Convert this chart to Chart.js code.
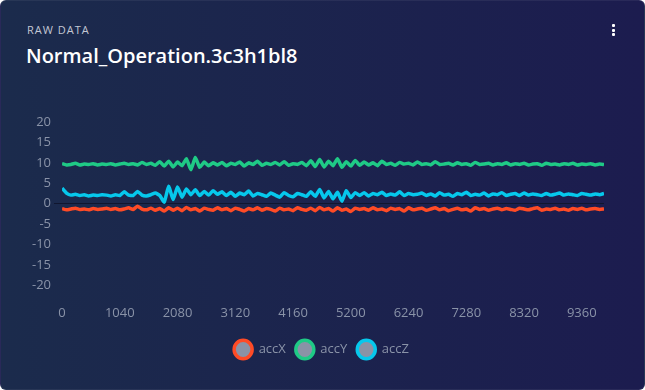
<!DOCTYPE html>
<html>
<head>
<meta charset="utf-8">
<script src="https://cdn.jsdelivr.net/npm/chart.js@4.4.0/dist/chart.umd.min.js"></script>
<style>
  html, body { margin: 0; padding: 0; background: #ffffff; }
  .card {
    position: relative;
    width: 645px;
    height: 390px;
    box-sizing: border-box;
    border-radius: 6px;
    border: 1px solid rgba(255, 255, 255, 0.06);
    background: linear-gradient(90deg, #1b2b4c 0%, #1c1c4f 100%);
    overflow: hidden;
    font-family: "Open Sans", sans-serif;
  }
  .kicker {
    position: absolute; left: 26px; top: 21px;
    font-size: 11px; letter-spacing: 1px; color: #c3c8d4;
  }
  .title {
    position: absolute; left: 25px; top: 41px;
    font-size: 20px; font-weight: 600; color: #ffffff;
  }
  .menu { position: absolute; left: 611px; top: 23px; }
  .menu span {
    display: block; width: 3px; height: 3px; margin-bottom: 1.5px;
    background: #ffffff; border-radius: 1px;
  }
  canvas { position: absolute; left: 0; top: 0; }
</style>
</head>
<body>
<div class="card">
  <div class="kicker">RAW DATA</div>
  <div class="title">Normal_Operation.3c3h1bl8</div>
  <div class="menu"><span></span><span></span><span></span></div>
  <canvas id="raw_chart" width="645" height="390"></canvas>
</div>
<script>
var sampleStep = 80; // sample spacing on the x axis
var xTickValues = [0, 1040, 2080, 3120, 4160, 5200, 6240, 7280, 8320, 9360];
var yTicks = [-20, -15, -10, -5, 0, 5, 10, 15, 20];

var accX = [
  -1.2, -1.5, -1.3, -1.1, -1.4, -1.3, -1.5, -1.2, -1.4, -1.3, -1.1, -1.4,
  -1.2, -1.5, -1.3, -1.0, -1.4, -0.6, -1.3, -1.5, -1.1, -1.6,
  -1.2, -1.8, -1.0, -1.6, -1.1, -1.7, -0.9, -1.5, -1.2, -1.8,
  -1.1, -1.4, -1.6, -1.0, -1.5, -1.2, -1.7, -1.1, -1.4, -1.8, -1.2, -1.5, -1.0,
  -1.6, -1.2, -1.4, -1.8, -1.1, -1.5, -1.3, -1.7, -1.0, -1.4, -1.6,
  -1.1, -1.7, -0.9, -1.5, -1.2, -1.8, -1.0, -1.6, -1.3, -1.9, -1.1,
  -1.4, -1.2, -1.6, -1.0, -1.5, -1.3, -1.7, -1.1, -1.4, -1.2, -1.8, -1.0, -1.5, -1.3,
  -1.1, -1.6, -1.3, -1.0, -1.5, -1.2, -1.7, -1.4, -1.1, -1.5, -1.3, -1.8, -1.0, -1.4, -1.2, -1.6, -1.3, -1.1, -1.5, -1.2,
  -1.4, -1.6, -1.1, -1.3, -1.5, -1.2, -1.0, -1.6, -1.3, -1.4, -1.1, -1.5, -1.3, -1.6, -1.2, -1.4, -1.1, -1.5, -1.3, -1.2, -1.4, -1.3
];
var accY = [
  9.8, 9.5, 9.6, 9.9, 9.5, 9.7, 9.6, 9.8, 9.5, 9.7, 9.6, 9.8,
  9.5, 9.7, 9.9, 9.6, 9.8, 9.5, 10.1, 9.6, 9.9, 9.4,
  10.3, 9.2, 10.4, 9.0, 10.2, 9.3, 11.0, 8.3, 11.3, 8.9,
  10.2, 9.3, 10.0, 9.5, 10.1, 9.3, 9.9, 9.6, 10.2, 9.2, 10.0, 9.6, 10.4,
  9.4, 9.9, 9.6, 10.1, 9.5, 10.3, 9.4, 9.8, 9.6, 10.1, 9.3,
  10.5, 9.1, 10.8, 9.0, 10.4, 9.3, 11.0, 8.9, 10.3, 9.2, 10.6,
  9.4, 10.2, 9.5, 10.0, 9.3, 10.4, 9.6, 9.9, 9.4, 10.1, 9.7, 9.9, 9.5, 10.2,
  9.6, 9.8, 9.5, 10.3, 9.6, 9.7, 9.9, 9.5, 10.0, 9.6, 9.8, 9.4, 10.1, 9.6, 9.7, 9.9, 9.5, 9.8, 9.6, 10.0,
  9.5, 9.8, 9.6, 9.9, 9.5, 9.7, 9.8, 9.4, 9.9, 9.6, 9.7, 9.5, 9.8, 9.6, 9.9, 9.5, 9.7, 9.6, 9.8, 9.5, 9.7, 9.6
];
var accZ = [
  3.8, 2.6, 2.1, 2.3, 2.0, 2.2, 1.9, 2.1, 2.0, 2.2, 2.1, 1.9,
  2.2, 2.0, 2.9, 2.1, 2.0, 3.0, 2.1, 1.9, 2.2, 2.6,
  2.0, 0.4, 4.3, 1.0, 4.1, 1.6, 3.6, 2.2, 3.4, 2.0,
  3.0, 2.1, 3.2, 2.3, 2.9, 2.0, 2.8, 1.8, 2.6, 2.2, 3.1, 1.9, 2.5,
  2.2, 1.8, 2.6, 2.1, 1.6, 2.7, 2.0, 1.7, 2.5, 2.2, 1.8,
  2.9, 1.8, 3.5, 1.4, 3.0, 1.2, 2.8, 0.6, 3.2, 1.5, 2.7,
  2.0, 2.7, 1.9, 2.5, 2.2, 2.8, 2.0, 2.4, 2.1, 2.9, 2.0, 2.5, 2.2, 2.3,
  2.6, 2.0, 2.4, 1.9, 2.7, 2.1, 2.3, 1.8, 2.5, 2.2, 2.8, 2.0, 2.3, 2.1, 2.6, 1.9, 2.4, 2.2, 2.7, 2.0,
  2.3, 2.5, 2.0, 2.6, 2.1, 2.4, 2.2, 2.0, 2.5, 2.1, 2.3, 2.6, 2.1, 2.4, 2.2, 2.0, 2.5, 2.3, 2.1, 2.4, 2.2, 2.5
];

function toPoints(values) {
  return values.map(function (v, i) { return { x: i * sampleStep, y: v }; });
}

// nudge the legend a few pixels right, as in the original card
var legendShift = {
  id: "legendShift",
  afterLayout: function (chart) {
    chart.legend.left += 5;
    chart.legend.right += 5;
  },
};

var tickColor = "#8a93a8";
var ctx = document.getElementById("raw_chart").getContext("2d");
var raw_chart = new Chart(ctx, {
  type: "line",
  data: {
    datasets: [
      { label: "accX", data: toPoints(accX), borderColor: "#ff4b26", backgroundColor: "#8a93a6", borderWidth: 3.5 },
      { label: "accY", data: toPoints(accY), borderColor: "#1fca86", backgroundColor: "#8a93a6", borderWidth: 3.5 },
      { label: "accZ", data: toPoints(accZ), borderColor: "#06c8ec", backgroundColor: "#8a93a6", borderWidth: 3.5 },
    ],
  },
  options: {
    responsive: false,
    animation: false,
    layout: { padding: { top: 121, left: 28, right: 42, bottom: 25 } },
    elements: {
      line: { tension: 0.15 },
      point: { radius: 0 },
    },
    scales: {
      x: {
        type: "linear",
        min: 0,
        max: (accX.length - 1) * sampleStep,
        grid: { display: false },
        border: { display: false },
        afterBuildTicks: function (axis) {
          axis.ticks = xTickValues.map(function (v) { return { value: v }; });
        },
        ticks: {
          color: tickColor,
          padding: 12,
          maxRotation: 0,
          autoSkip: false,
          font: { family: "Open Sans", size: 13 },
          callback: function (v) { return String(v); },
        },
      },
      y: {
        min: yTicks[0],
        max: yTicks[yTicks.length - 1],
        border: { display: false },
        grid: {
          color: function (c) { return c.tick && c.tick.value === 0 ? "#10162f" : "transparent"; },
          lineWidth: 1,
        },
        ticks: {
          stepSize: 5,
          color: tickColor,
          font: { family: "Open Sans", size: 13 },
        },
      },
    },
    plugins: {
      tooltip: { enabled: false },
      legend: {
        position: "bottom",
        labels: {
          usePointStyle: true,
          pointStyle: "circle",
          pointStyleWidth: 18,
          color: tickColor,
          padding: 10,
          font: { family: "Open Sans", size: 13 },
        },
      },
    },
  },
  plugins: [legendShift],
});
</script>
</body>
</html>
